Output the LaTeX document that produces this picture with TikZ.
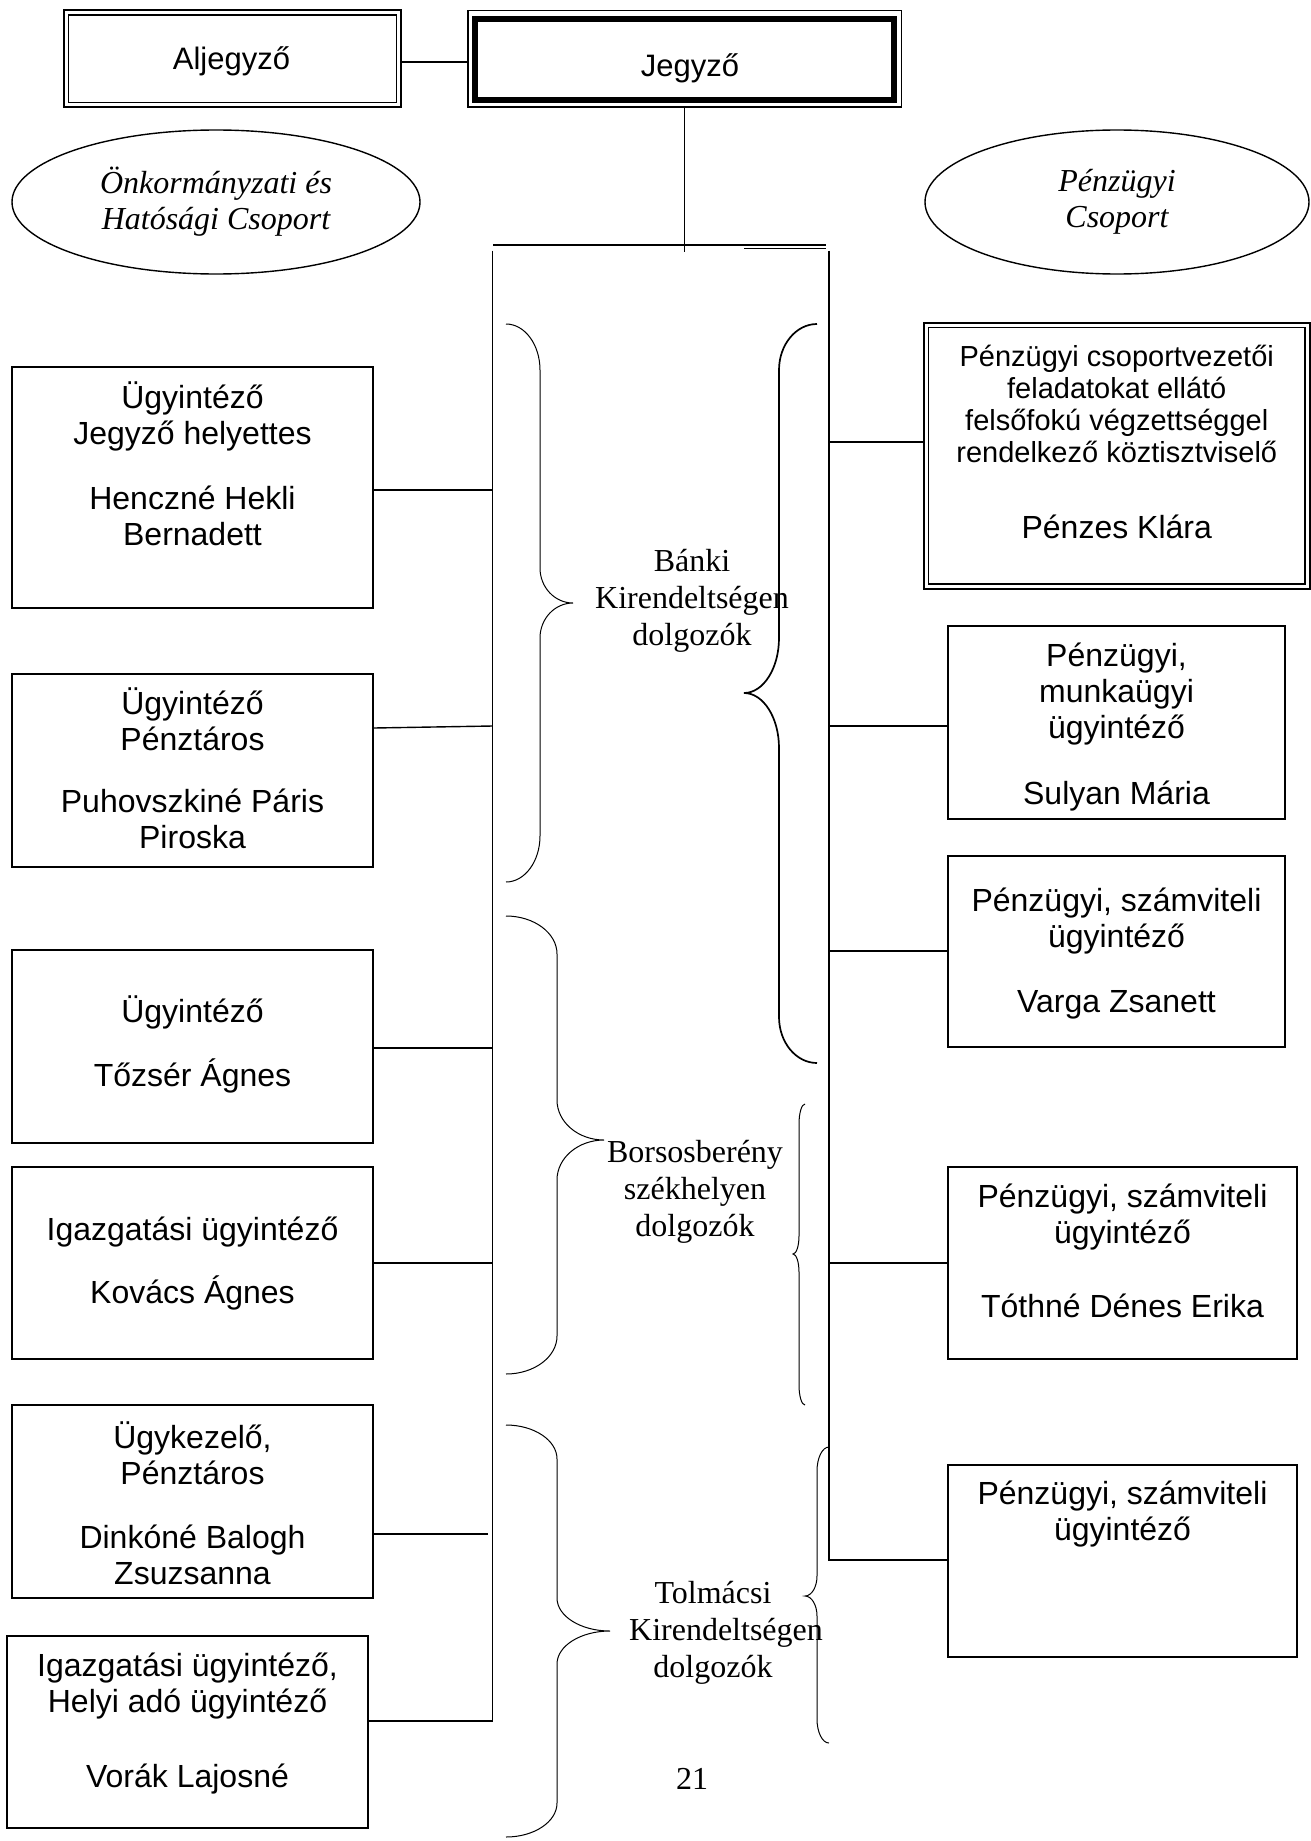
\documentclass[tikz,border=0pt]{standalone}
\usepackage{fontspec}
\setmainfont{Liberation Serif}
\newfontfamily\arialf{Liberation Sans}
\usetikzlibrary{shapes.geometric}
\newcommand\brc[9]{%
  \draw[#9] (#1,#4) .. controls ({#1+0.552*(#2-#1)},#4) and (#2,{#4+0.448*#7}) .. (#2,{#4+#7})
   -- (#2,{#5-#8})
   .. controls (#2,{#5-0.448*#8}) and ({#3-0.552*(#3-#2)},#5) .. (#3,#5)
   .. controls ({#3-0.552*(#3-#2)},#5) and (#2,{#5+0.448*#8}) .. (#2,{#5+#8})
   -- (#2,{#6-#7})
   .. controls (#2,{#6-0.448*#7}) and ({#1+0.552*(#2-#1)},#6) .. (#1,#6);}
\begin{document}
\begin{tikzpicture}[x=0.5pt,y=-0.5pt,
  obox/.style={draw, line width=0.9pt, inner sep=0pt, minimum width=180.5pt},
  rbox/.style={draw, line width=0.9pt, inner sep=0pt},
  conn/.style={line width=0.7pt},
  bt/.style={font={\arialf\fontsize{16pt}{18pt}\selectfont}, align=center, anchor=base, inner sep=0pt},
  st/.style={font={\arialf\fontsize{14.5pt}{16pt}\selectfont}, align=center, anchor=base, inner sep=0pt},
  lbl/.style={font={\fontsize{16pt}{18.5pt}\selectfont}, align=center, anchor=base, inner sep=0pt},
  ell/.style={draw, ellipse, line width=0.7pt, inner sep=0pt, align=center,
              font={\itshape\fontsize{16pt}{18pt}\selectfont}},
  thinb/.style={line width=0.5pt},
  thickb/.style={line width=0.85pt}]
\fill[white] (0,0) rectangle (1311,1841);
\useasboundingbox (0,0) rectangle (1311,1841);

% top boxes
\node[draw, line width=1pt, inner sep=0pt, minimum width=168.5pt, minimum height=48.25pt] (alj) at (232.5,58.75) {};
\draw[line width=0.6pt] ([shift={(2.75pt,-2.75pt)}]alj.north west) rectangle ([shift={(-2.75pt,2.75pt)}]alj.south east);
\node[font={\arialf\fontsize{15.5pt}{18pt}\selectfont}, anchor=base, inner sep=0pt] (aljt) at (231.5,70) {Aljegyző};

\node[draw, line width=0.6pt, inner sep=0pt, minimum width=216.75pt, minimum height=48.25pt] (jegy) at (684.75,58.75) {};
\draw[line width=3pt] ([shift={(4pt,-4.5pt)}]jegy.north west) rectangle ([shift={(-4pt,3.75pt)}]jegy.south east);
\node[font={\arialf\fontsize{15.5pt}{18pt}\selectfont}, anchor=base, inner sep=0pt] (jegyt) at (690,76) {Jegyző};

\coordinate (aj) at (401,62);
\draw[conn] (aj) -- (aj -| jegy.west);

% ellipses
\node[ell, minimum width=204pt, minimum height=72pt] (ellL) at (216,202) {Önkormányzati és\\Hatósági Csoport};
\node[ell, minimum width=192pt, minimum height=72pt] (ellR) at (1117,202) {Pénzügyi\\Csoport};

% bar and buses
\coordinate (jdown) at (684.75,252);
\draw[conn] (jegy.south) -- (jdown);
\coordinate (barL) at (493,245);
\coordinate (barR) at (826,245);
\draw[line width=1.1pt] (barL) -- (barR);
\coordinate (barR2a) at (744,248.5);
\coordinate (barR2b) at (826,248.5);
\draw[line width=0.9pt] (barR2a) -- (barR2b);
\coordinate (busLtop) at (492.5,250.5);
\coordinate (busLbot) at (492.5,1721);
\coordinate (busRtop) at (829,250.5);
\coordinate (busRbot) at (829,1560);

% left boxes
\node[obox, minimum height=120.5pt] (b1) at (192.5,487.5) {};
\node[obox, minimum height=96.5pt] (b2) at (192.5,770.5) {};
\node[obox, minimum height=96.5pt] (b3) at (192.5,1046.5) {};
\node[obox, minimum height=96pt] (b4) at (192.5,1263) {};
\node[obox, minimum height=96.5pt] (b5) at (192.5,1501.5) {};
\node[obox, minimum height=96pt] (b6) at (187.5,1732) {};

% (anchor=base = baseline of the last line)
\node[bt] (t1) at (192.5,545) {Ügyintéző\\Jegyző helyettes\\[14.5pt]Henczné Hekli\\Bernadett};
\node[bt] (t2) at (192.5,848) {Ügyintéző\\Pénztáros\\[13pt]Puhovszkiné Páris\\Piroska};
\node[bt] (t3) at (192.5,1086) {Ügyintéző\\[14pt]Tőzsér Ágnes};
\node[bt] (t4) at (192.5,1303) {Igazgatási ügyintéző\\[13.5pt]Kovács Ágnes};
\node[bt] (t5) at (192.5,1584) {Ügykezelő,\\Pénztáros\\[14pt]Dinkóné Balogh\\Zsuzsanna};
\node[bt] (t6) at (187.5,1787) {Igazgatási ügyintéző,\\Helyi adó ügyintéző\\[19.5pt]Vorák Lajosné};

% right boxes
\node[draw, line width=1pt, inner sep=0pt, minimum width=192.75pt, minimum height=132.75pt] (r1) at (1116.75,455.75) {};
\draw[line width=0.6pt] ([shift={(2.75pt,-2.75pt)}]r1.north west) rectangle ([shift={(-2.75pt,2.75pt)}]r1.south east);
\node[rbox, minimum width=168.5pt, minimum height=96.5pt] (r2) at (1116.5,722.5) {};
\node[rbox, minimum width=168.5pt, minimum height=95.5pt] (r3) at (1116.5,951.5) {};
\node[rbox, minimum width=174.5pt, minimum height=96pt] (r4) at (1122.5,1263) {};
\node[rbox, minimum width=174.5pt, minimum height=96pt] (r5) at (1122.5,1561) {};

\node[st] (u1) at (1116.75,462) {Pénzügyi csoportvezetői\\feladatokat ellátó\\felsőfokú végzettséggel\\rendelkező köztisztviselő};
\node[bt] (u1b) at (1116.75,538) {Pénzes Klára};
\node[bt] (u2) at (1116.5,804) {Pénzügyi,\\munkaügyi\\ügyintéző\\[15pt]Sulyan Mária};
\node[bt] (u3) at (1116.5,1012) {Pénzügyi, számviteli\\ügyintéző\\[14.5pt]Varga Zsanett};
\node[bt] (u4) at (1122.5,1317) {Pénzügyi, számviteli\\ügyintéző\\[19pt]Tóthné Dénes Erika};
\node[bt] (u5) at (1122.5,1540) {Pénzügyi, számviteli\\ügyintéző};

% buses and connectors
\draw[conn] (busLtop) -- (busLbot) -- (busLbot -| b6.east);
\draw[conn] (busRtop) -- (busRbot) -- (busRbot -| r5.west);
\coordinate (c1) at (492.5,490);
\coordinate (c2) at (492.5,726);
\coordinate (c3) at (492.5,1048);
\coordinate (c4) at (492.5,1263);
\coordinate (c5) at (488,1534);
\draw[conn] (c1) -- (c1 -| b1.east);
\draw[conn] (c2) -- ([yshift=-1pt]c2 -| b2.east);
\draw[conn] (c3) -- (c3 -| b3.east);
\draw[conn] (c4) -- (c4 -| b4.east);
\draw[conn] (c5) -- (c5 -| b5.east);
\coordinate (d1) at (829,442);
\coordinate (d2) at (829,726);
\coordinate (d3) at (829,951);
\coordinate (d4) at (829,1263);
\draw[conn] (d1) -- (d1 -| r1.west);
\draw[conn] (d2) -- (d2 -| r2.west);
\draw[conn] (d3) -- (d3 -| r3.west);
\draw[conn] (d4) -- (d4 -| r4.west);

% braces
\brc{506}{540}{573}{324}{603}{882}{46}{35}{thinb}
\brc{506}{557}{604}{916}{1140}{1374}{38}{40}{thinb}
\brc{506}{557}{610}{1425}{1631}{1837}{34}{33}{thinb}
\brc{817}{779}{744}{324}{693}{1063}{46}{55}{thickb}
\brc{805}{799}{793}{1104}{1254}{1405}{20}{18}{thinb}
\brc{829}{817}{805}{1447}{1596}{1743}{24}{20}{thinb}

% brace labels
\node[lbl] (la) at (692,645) {Bánki\\Kirendeltségen\\dolgozók};
\node[lbl] (lb) at (695,1236) {Borsosberény\\székhelyen\\dolgozók};
\node[lbl] (lc) at (713,1677) {Tolmácsi\\\hspace*{13pt}Kirendeltségen\\dolgozók};
\node[font={\fontsize{16pt}{18pt}\selectfont}, anchor=base, inner sep=0pt] (pg) at (692,1789) {21};
\end{tikzpicture}
\end{document}
